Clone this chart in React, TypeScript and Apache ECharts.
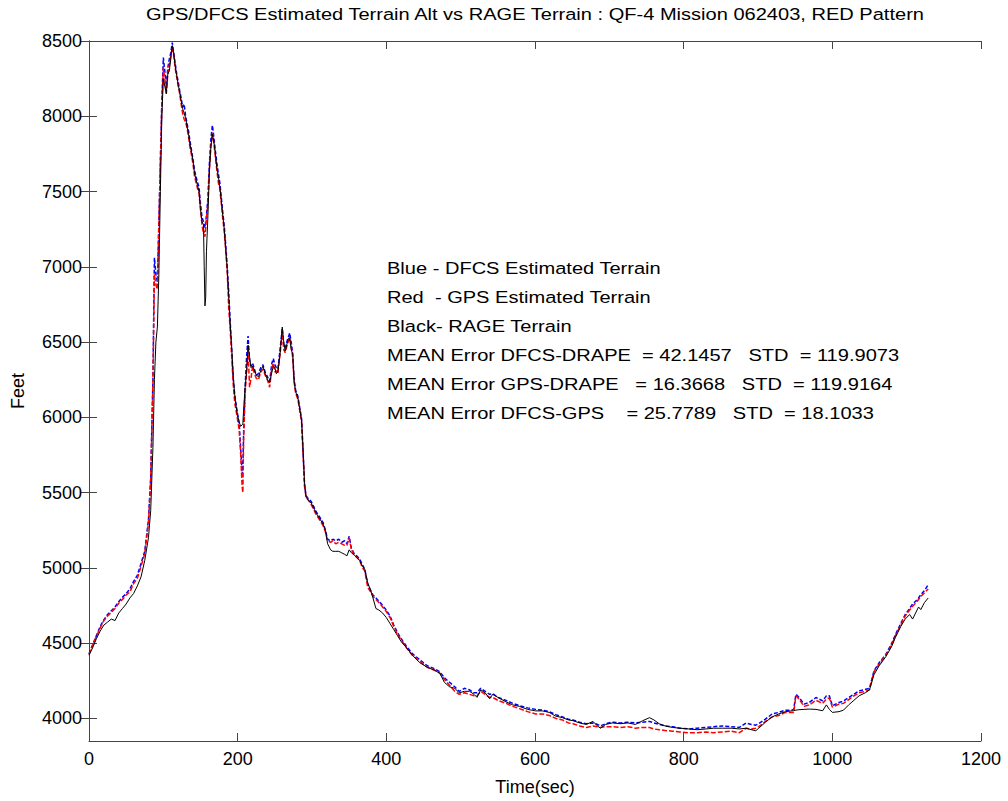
import React, { useEffect, useRef } from "react";
import * as echarts from "echarts";

const timeSec = [
  0, 5, 10, 15, 20, 25, 30, 35, 40, 45, 50, 55, 60, 65, 70, 75, 80, 83, 86, 88, 90, 92, 94, 96, 98,
  100, 102, 104, 106, 108, 110, 112, 114, 116, 118, 120, 122, 124, 126, 128, 130, 132, 134, 136, 138,
  140, 142, 144, 146, 148, 150, 152, 154, 155, 156, 157, 158, 160, 162, 164, 166, 168, 170, 172, 174,
  176, 178, 180, 182, 184, 186, 188, 190, 192, 194, 196, 198, 200, 202, 204, 206, 207, 208, 210, 212,
  214, 216, 218, 220, 222, 225, 228, 231, 234, 237, 240, 243, 246, 248, 250, 252, 254, 257, 260, 262,
  264, 266, 268, 270, 272, 274, 276, 278, 281, 284, 286, 288, 290, 292, 295, 299, 303, 306, 310, 315,
  318, 321, 325, 328, 332, 336, 340, 344, 347, 350, 353, 356, 360, 364, 368, 371, 375, 379, 382, 386,
  390, 395, 400, 405, 410, 415, 420, 427, 435, 445, 455, 465, 472, 478, 485, 492, 498, 505, 512, 518,
  522, 527, 533, 539, 543, 550, 561, 570, 579, 590, 601, 610, 619, 628, 637, 645, 651, 660, 669, 678,
  684, 688, 695, 704, 715, 725, 735, 745, 754, 760, 767, 775, 785, 795, 807, 818, 830, 840, 852, 864,
  875, 884, 891, 897, 901, 910, 919, 928, 937, 945, 948, 951, 955, 962, 969, 978, 987, 992, 996, 1000,
  1009, 1015, 1022, 1029, 1036, 1045, 1050, 1056, 1063, 1072, 1080, 1085, 1092, 1098, 1104, 1108, 1112,
  1116, 1119, 1124, 1129,
];

const dfcsTerrain = [
  4430, 4490, 4550, 4610, 4655, 4690, 4715, 4740, 4775, 4805, 4830, 4860, 4910, 4950, 5030, 5110, 5320, 5600, 6250, 7060, 6950, 6900, 7300, 7700, 8100,
  8390, 8300, 8200, 8320, 8380, 8420, 8490, 8420, 8350, 8280, 8230, 8170, 8120, 8060, 8080, 8000, 7950, 7900, 7830, 7770,
  7710, 7640, 7600, 7560, 7530, 7420, 7330, 7300, 7280, 7260, 7300, 7340, 7460, 7690, 7850, 7940, 7860, 7770, 7690, 7620,
  7560, 7460, 7360, 7270, 7140, 7000, 6830, 6630, 6450, 6260, 6150, 6080, 6020, 5960, 5800, 5620, 5680, 5900, 6200, 6400,
  6540, 6380, 6340, 6360, 6330, 6280, 6290, 6330, 6350, 6300, 6270, 6240, 6360, 6390, 6350, 6330, 6320, 6450, 6590, 6480,
  6460, 6500, 6530, 6560, 6500, 6430, 6250, 6180, 6140, 6050, 5990, 5770, 5550, 5480, 5460, 5440, 5400, 5370, 5340, 5300,
  5250, 5190, 5180, 5190, 5180, 5190, 5170, 5180, 5160, 5210, 5130, 5100, 5080, 5060, 5020, 4990, 4890, 4850, 4820, 4800,
  4780, 4750, 4720, 4680, 4620, 4570, 4530, 4480, 4430, 4390, 4350, 4330, 4310, 4270, 4240, 4210, 4180, 4200, 4190, 4170,
  4170, 4200, 4180, 4160, 4165, 4140, 4120, 4100, 4085, 4070, 4060, 4055, 4045, 4025, 4010, 3995, 3990, 3975, 3965, 3970,
  3960, 3950, 3965, 3975, 3970, 3975, 3970, 3975, 3980, 3970, 3960, 3950, 3945, 3935, 3930, 3935, 3940, 3945, 3950, 3945,
  3940, 3970, 3960, 3955, 3965, 3995, 4030, 4040, 4055, 4055, 4060, 4160, 4140, 4095, 4106, 4139, 4117, 4150, 4150, 4084,
  4106, 4115, 4139, 4160, 4183, 4194, 4200, 4315, 4370, 4425, 4500, 4558, 4630, 4690, 4730, 4760, 4778,
  4800, 4822, 4850, 4888,
];

const gpsTerrain = [
  4425, 4485, 4545, 4600, 4650, 4680, 4705, 4730, 4765, 4790, 4820, 4840, 4895, 4930, 5010, 5095, 5300, 5580, 6230, 6950, 6880, 6850, 7280, 7690, 8080,
  8320, 8250, 8150, 8280, 8340, 8400, 8460, 8400, 8320, 8260, 8200, 8150, 8080, 8020, 7980, 7960, 7920, 7860, 7790, 7740,
  7680, 7600, 7560, 7520, 7490, 7380, 7280, 7220, 7240, 7200, 7260, 7320, 7420, 7650, 7800, 7890, 7820, 7730, 7640, 7560,
  7520, 7420, 7320, 7230, 7100, 6960, 6720, 6580, 6400, 6220, 6100, 6040, 5980, 5920, 5760, 5540, 5500, 5850, 6150, 6300,
  6450, 6200, 6260, 6340, 6300, 6260, 6250, 6300, 6320, 6280, 6250, 6200, 6330, 6360, 6300, 6310, 6290, 6420, 6560, 6450,
  6430, 6470, 6500, 6530, 6470, 6400, 6230, 6160, 6120, 6030, 5970, 5760, 5540, 5470, 5450, 5420, 5380, 5350, 5320, 5280,
  5240, 5180, 5170, 5180, 5160, 5170, 5160, 5150, 5150, 5200, 5120, 5090, 5070, 5050, 5000, 4980, 4870, 4840, 4810, 4790,
  4770, 4740, 4710, 4670, 4610, 4560, 4520, 4470, 4420, 4380, 4340, 4320, 4300, 4260, 4220, 4180, 4160, 4170, 4160, 4150,
  4150, 4180, 4160, 4140, 4140, 4120, 4100, 4080, 4065, 4045, 4030, 4030, 4020, 4000, 3990, 3970, 3965, 3950, 3940, 3950,
  3945, 3940, 3945, 3945, 3940, 3945, 3935, 3940, 3940, 3930, 3925, 3920, 3915, 3910, 3905, 3905, 3910, 3905, 3910, 3915,
  3905, 3935, 3930, 3935, 3945, 3980, 4010, 4020, 4040, 4040, 4040, 4150, 4130, 4080, 4090, 4120, 4100, 4130, 4135, 4075,
  4095, 4100, 4125, 4150, 4170, 4180, 4190, 4310, 4360, 4420, 4490, 4550, 4620, 4680, 4720, 4745, 4765,
  4790, 4810, 4835, 4860,
];

const rageTerrain = [
  4420, 4470, 4530, 4580, 4620, 4640, 4660, 4650, 4700, 4730, 4760, 4800, 4830, 4880, 4940, 5050, 5200, 5380, 5800, 6250, 6500, 6600, 6950, 7500, 8000,
  8250, 8200, 8150, 8280, 8300, 8380, 8470, 8420, 8330, 8270, 8210, 8160, 8100, 8050, 8020, 7990, 7930, 7880, 7810, 7760,
  7700, 7620, 7580, 7540, 7500, 7380, 7300, 7280, 7000, 6740, 6800, 7100, 7340, 7640, 7800, 7880, 7830, 7750, 7660, 7600,
  7530, 7440, 7340, 7250, 7120, 6980, 6800, 6620, 6460, 6280, 6150, 6070, 6010, 5970, 5940, 5950, 5960, 6050, 6200, 6300,
  6480, 6400, 6330, 6340, 6320, 6280, 6270, 6310, 6340, 6290, 6250, 6230, 6300, 6340, 6330, 6290, 6300, 6420, 6600, 6500,
  6440, 6480, 6520, 6530, 6450, 6420, 6240, 6170, 6130, 6040, 5980, 5780, 5560, 5470, 5450, 5430, 5390, 5360, 5330, 5290,
  5250, 5160, 5120, 5110, 5110, 5110, 5100, 5090, 5080, 5120, 5100, 5090, 5070, 5050, 5010, 4990, 4900, 4850, 4800, 4730,
  4720, 4700, 4670, 4630, 4590, 4550, 4510, 4470, 4420, 4370, 4340, 4320, 4300, 4240, 4210, 4200, 4170, 4180, 4180, 4160,
  4140, 4190, 4170, 4130, 4160, 4140, 4110, 4090, 4080, 4060, 4050, 4050, 4040, 4015, 4005, 3990, 3985, 3970, 3960, 3980,
  3950, 3935, 3960, 3970, 3965, 3970, 3960, 3985, 4005, 3990, 3965, 3950, 3940, 3935, 3930, 3925, 3930, 3935, 3935, 3935,
  3930, 3935, 3925, 3918, 3935, 3975, 4010, 4030, 4045, 4050, 4051, 4055, 4058, 4060, 4062, 4060, 4051, 4090, 4060, 4040,
  4045, 4055, 4090, 4120, 4150, 4172, 4190, 4290, 4350, 4410, 4480, 4540, 4610, 4660, 4690, 4660, 4700,
  4740, 4723, 4770, 4800,
];

const xTicks = [0, 200, 400, 600, 800, 1000, 1200];
const yTicks = [4000, 4500, 5000, 5500, 6000, 6500, 7000, 7500, 8000, 8500];

const titleText = "GPS/DFCS Estimated Terrain Alt vs RAGE Terrain : QF-4 Mission 062403, RED Pattern";
const annotationLines = [
  "Blue - DFCS Estimated Terrain",
  "Red  - GPS Estimated Terrain",
  "Black- RAGE Terrain",
  "MEAN Error DFCS-DRAPE  = 42.1457   STD  = 119.9073",
  "MEAN Error GPS-DRAPE   = 16.3668   STD  = 119.9164",
  "MEAN Error DFCS-GPS    = 25.7789   STD  = 18.1033",
];

const FONT = "Arial, 'Liberation Sans', sans-serif";
const STRETCH = 1.18;

export default function App() {
  const ref = useRef<HTMLDivElement>(null);
  useEffect(() => {
    document.body.style.margin = "0";
    if (!ref.current) return;
    const chart = echarts.init(ref.current, undefined, { renderer: "svg" });
    const pair = (vals: number[]) => timeSec.map((t, i) => [t, vals[i]]);
    const axisLineStyle = { color: "#444", width: 1 };
    const labelStyle = { fontFamily: FONT, fontSize: 18, color: "#000" };
    chart.setOption({
      animation: false,
      backgroundColor: "#fff",
      grid: { left: 89, top: 41, right: 27, bottom: 58, containLabel: false },
      xAxis: [
        {
          type: "value",
          min: 0,
          max: 1200,
          interval: 200,
          name: "Time(sec)",
          nameLocation: "middle",
          nameGap: 37,
          nameTextStyle: labelStyle,
          axisLine: { show: true, lineStyle: axisLineStyle },
          axisTick: { show: true, inside: true, length: 8, lineStyle: axisLineStyle },
          axisLabel: {
            ...labelStyle,
            margin: 9,
            customValues: xTicks,
            formatter: (v: number) => String(v),
          },
          splitLine: { show: false },
        },
        {
          type: "value",
          position: "top",
          min: 0,
          max: 1200,
          interval: 200,
          axisLine: { show: true, lineStyle: axisLineStyle },
          axisTick: { show: true, inside: true, length: 8, lineStyle: axisLineStyle },
          axisLabel: { show: false },
          splitLine: { show: false },
        },
      ],
      yAxis: [
        {
          type: "value",
          min: 3850,
          max: 8500,
          name: "Feet",
          nameLocation: "middle",
          nameGap: 62,
          nameRotate: 90,
          nameTextStyle: labelStyle,
          axisLine: { show: true, lineStyle: axisLineStyle },
          axisTick: { show: true, inside: true, length: 8, lineStyle: axisLineStyle, customValues: yTicks },
          axisLabel: {
            ...labelStyle,
            margin: 7,
            customValues: yTicks,
            formatter: (v: number) => String(v),
          },
          splitLine: { show: false },
        },
        {
          type: "value",
          position: "right",
          min: 3850,
          max: 8500,
          axisLine: { show: true, lineStyle: axisLineStyle },
          axisTick: { show: true, inside: true, length: 8, lineStyle: axisLineStyle, customValues: yTicks },
          axisLabel: { show: false },
          splitLine: { show: false },
        },
      ],
      series: [
        {
          name: "DFCS",
          type: "line",
          data: pair(dfcsTerrain),
          showSymbol: false,
          symbol: "none",
          lineStyle: { color: "#0000ff", width: 1.5, type: [4, 2] },
          z: 2,
        },
        {
          name: "GPS",
          type: "line",
          data: pair(gpsTerrain),
          showSymbol: false,
          symbol: "none",
          lineStyle: { color: "#ff0000", width: 1.5, type: [5, 2] },
          z: 3,
        },
        {
          name: "RAGE",
          type: "line",
          data: pair(rageTerrain),
          showSymbol: false,
          symbol: "none",
          lineStyle: { color: "#000000", width: 1 },
          z: 4,
        },
      ],
      graphic: [
        {
          type: "text",
          x: 535,
          y: 14,
          scaleX: STRETCH,
          style: {
            text: titleText,
            fontFamily: FONT,
            fontSize: 17,
            fill: "#000",
            align: "center",
            verticalAlign: "middle",
          },
        },
        ...annotationLines.map((line, i) => ({
          type: "text",
          x: 387,
          y: 268 + i * 29.1,
          scaleX: STRETCH,
          style: {
            text: line,
            fontFamily: FONT,
            fontSize: 17,
            fill: "#000",
            align: "left",
            verticalAlign: "middle",
          },
        })),
      ],
    });
    return () => chart.dispose();
  }, []);
  return <div ref={ref} style={{ width: 1008, height: 801 }} />;
}
